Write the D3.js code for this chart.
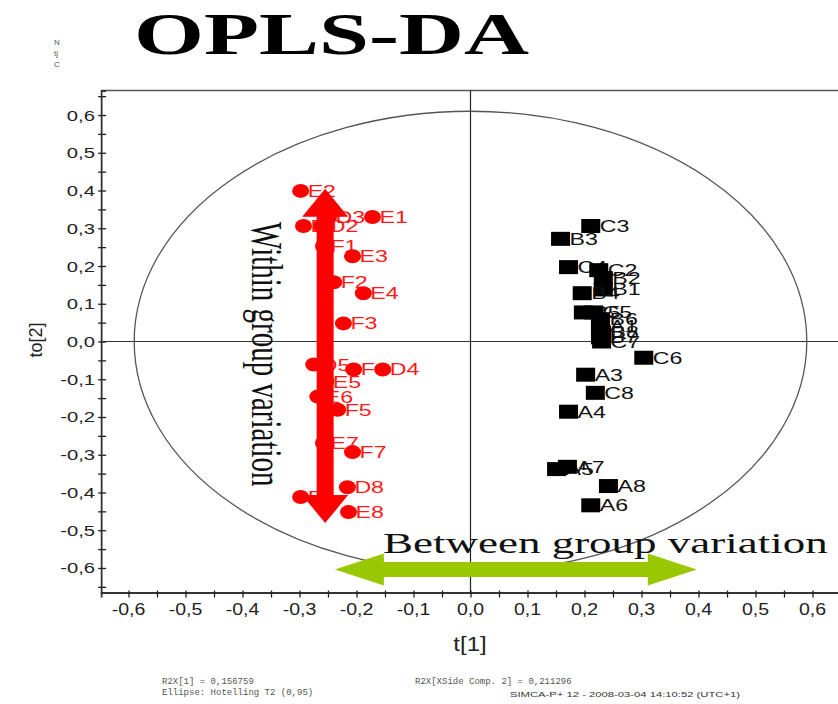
<!DOCTYPE html>
<html>
<head>
<meta charset="utf-8">
<script src="https://cdn.jsdelivr.net/npm/d3@7"></script>
<style>
  body { margin: 0; background: #fff; }
  text { font-family: "Liberation Sans", Arial, sans-serif; }
</style>
</head>
<body>
<svg id="chart" width="838" height="704"></svg>
<script>
// Class 1 scores (red circles)
const redLabels = ["D1","D2","D3","E2","E1","F1","E3","F2","E4","F3","D5","F4","D4","E5","E6","F5","E7","F7","D8","F8","E8"];
const redT1  = [-0.293,-0.261,-0.249,-0.298,-0.172,-0.258,-0.207,-0.240,-0.188,-0.223,-0.275,-0.205,-0.154,-0.254,-0.268,-0.233,-0.258,-0.207,-0.216,-0.298,-0.214];
const redTo2 = [ 0.306, 0.306, 0.330, 0.399, 0.330, 0.253, 0.226, 0.157, 0.128, 0.048,-0.061,-0.074,-0.074,-0.106,-0.146,-0.181,-0.269,-0.293,-0.386,-0.412,-0.452];

// Class 2 scores (black squares)
const blackLabels = ["C3","B3","C4","C2","B2","B1","B4","B5","C5","B6","A1","B8","B7","C7","C6","A3","C8","A4","A5","A7","A8","A6"];
const blackT1  = [0.211,0.158,0.172,0.225,0.233,0.233,0.196,0.198,0.216,0.228,0.228,0.230,0.228,0.230,0.304,0.202,0.219,0.172,0.151,0.170,0.242,0.211];
const blackTo2 = [0.306,0.272,0.197,0.189,0.168,0.138,0.128,0.077,0.077,0.059,0.040,0.024,0.011,0.000,-0.043,-0.088,-0.136,-0.186,-0.338,-0.332,-0.383,-0.434];

// Axes
const xTicks = [-0.6,-0.5,-0.4,-0.3,-0.2,-0.1,0,0.1,0.2,0.3,0.4,0.5,0.6];
const yTicks = [-0.6,-0.5,-0.4,-0.3,-0.2,-0.1,0,0.1,0.2,0.3,0.4,0.5,0.6];
const xExtent = [-0.648, 0.648];
const yExtent = [-0.665, 0.665];

// Hotelling T2 (0.95) ellipse radii [t1, to2]
const ellipseRadii = [0.59, 0.61];

// Annotation arrows (in score units)
const withinArrowT1 = -0.255;
const withinArrowTo2 = [0.405, -0.481];
const betweenArrowTo2 = -0.604;
const betweenArrowT1 = [-0.238, 0.397];

const footerLines = ["R2X[1] = 0,156759", "Ellipse: Hotelling T2 (0,95)", "R2X[XSide Comp. 2] = 0,211296"];
const stamp = "SIMCA-P+ 12 - 2008-03-04 14:10:52 (UTC+1)";

const svg = d3.select("#chart");
svg.append("rect").attr("width", 838).attr("height", 704).attr("fill", "#fff");

const x = d3.scaleLinear().domain(xExtent).range([101.14, 839.86]);
const y = d3.scaleLinear().domain(yExtent).range([592.5, 90.5]);

const loc = d3.formatLocale({decimal: ",", thousands: ".", grouping: [3], currency: ["", ""], minus: "-"});
const fmt = loc.format(".1f");

// Title
svg.append("text")
  .attr("transform", "translate(134,54) scale(1.5,1)")
  .style("font-family", "'Liberation Serif', 'Times New Roman', serif")
  .style("font-weight", "bold")
  .style("font-size", "60px")
  .attr("fill", "#000")
  .text("OPLS-DA");

// small stacked marks by the title
["N", "tj", "C"].forEach((s, i) => {
  svg.append("text").attr("x", 54).attr("y", 45 + i * 11)
    .style("font-size", "8px").attr("fill", "#555").text(s);
});

// Plot frame
const g = svg.append("g");
g.append("line").attr("x1", x(xExtent[0])).attr("x2", x(xExtent[1])).attr("y1", y(yExtent[1])).attr("y2", y(yExtent[1]))
  .attr("stroke", "#555").attr("stroke-width", 1.5);

// Zero lines
g.append("line").attr("x1", x(xExtent[0])).attr("x2", x(xExtent[1])).attr("y1", y(0)).attr("y2", y(0))
  .attr("stroke", "#333").attr("stroke-width", 1.2);
g.append("line").attr("x1", x(0)).attr("x2", x(0)).attr("y1", y(yExtent[0])).attr("y2", y(yExtent[1]))
  .attr("stroke", "#222").attr("stroke-width", 1.2);

// Axes
const minorX = d3.range(-12, 13).map(i => i * 0.05).filter(v => v >= xExtent[0] && v <= xExtent[1]);
const minorY = d3.range(-13, 14).map(i => i * 0.05).filter(v => v >= yExtent[0] && v <= yExtent[1]);

const xAxis = g.append("g").attr("transform", `translate(0,${y(yExtent[0])})`)
  .call(d3.axisBottom(x).tickValues(minorX).tickSize(5).tickFormat(""));
const yAxis = g.append("g").attr("transform", `translate(${x(xExtent[0])},0)`)
  .call(d3.axisLeft(y).tickValues(minorY).tickSize(-5).tickFormat(""));
[xAxis, yAxis].forEach(a => {
  a.select(".domain").attr("stroke", "#333").attr("stroke-width", 1.8);
  a.selectAll(".tick line").attr("stroke", "#222").attr("stroke-width", 1.3);
});
xAxis.selectAll(".tick line").attr("y1", -2);
yAxis.selectAll(".tick line").attr("x1", -3);

// Tick labels
g.selectAll(".xl").data(xTicks).join("text")
  .attr("transform", d => `translate(${x(d)},615) scale(1.22,1)`)
  .attr("text-anchor", "middle").style("font-size", "16px").attr("fill", "#222")
  .text(d => fmt(d));
g.selectAll(".yl").data(yTicks).join("text")
  .attr("transform", d => `translate(95,${y(d) + 5.5}) scale(1.35,1)`)
  .attr("text-anchor", "end").style("font-size", "15px").attr("fill", "#222")
  .text(d => fmt(d));

// Axis titles
svg.append("text").attr("transform", "translate(42,340) rotate(-90)")
  .attr("text-anchor", "middle").style("font-size", "18px").attr("fill", "#222").text("to[2]");
svg.append("text").attr("transform", "translate(470,651) scale(1.2,1)")
  .attr("text-anchor", "middle").style("font-size", "20px").attr("fill", "#222").text("t[1]");

// Hotelling ellipse
g.append("ellipse")
  .attr("cx", x(0)).attr("cy", y(0))
  .attr("rx", x(ellipseRadii[0]) - x(0)).attr("ry", y(0) - y(ellipseRadii[1]))
  .attr("fill", "none").attr("stroke", "#555").attr("stroke-width", 1.3);

// Red class points
const red = g.append("g");
redLabels.forEach((lab, i) => {
  const px = x(redT1[i]), py = y(redTo2[i]);
  red.append("ellipse").attr("cx", px).attr("cy", py).attr("rx", 8.5).attr("ry", 7).attr("fill", "#ff0000");
  red.append("text").attr("transform", `translate(${px + 7},${py + 6}) scale(1.45,1)`)
    .style("font-size", "16px").attr("fill", "#ff1a1a").text(lab);
});

// Black class points
const blk = g.append("g");
blackLabels.forEach((lab, i) => {
  const px = x(blackT1[i]), py = y(blackTo2[i]);
  blk.append("rect").attr("x", px - 9.5).attr("y", py - 7).attr("width", 19).attr("height", 14).attr("fill", "#000");
  blk.append("text").attr("transform", `translate(${px + 9},${py + 6}) scale(1.45,1)`)
    .style("font-size", "16px").attr("fill", "#111").text(lab);
});

// Within-group double arrow (red, vertical)
{
  const cx = x(withinArrowT1), y1 = y(withinArrowTo2[0]), y2 = y(withinArrowTo2[1]);
  const hb = 8.5, hh = 23, hl = 28;
  const pts = [[cx, y1], [cx + hh, y1 + hl], [cx + hb, y1 + hl], [cx + hb, y2 - hl], [cx + hh, y2 - hl], [cx, y2],
               [cx - hh, y2 - hl], [cx - hb, y2 - hl], [cx - hb, y1 + hl], [cx - hh, y1 + hl]];
  g.append("path").attr("d", d3.line()(pts) + "Z").attr("fill", "#ff0000");
}

// Between-group double arrow (green, horizontal)
{
  const cy = y(betweenArrowTo2), x1 = x(betweenArrowT1[0]), x2 = x(betweenArrowT1[1]);
  const hb = 7.5, hh = 16, hl = 49;
  const pts = [[x1, cy], [x1 + hl, cy - hh], [x1 + hl, cy - hb], [x2 - hl, cy - hb], [x2 - hl, cy - hh], [x2, cy],
               [x2 - hl, cy + hh], [x2 - hl, cy + hb], [x1 + hl, cy + hb], [x1 + hl, cy + hh]];
  g.append("path").attr("d", d3.line()(pts) + "Z").attr("fill", "#99c800");
}

// Annotation texts
svg.append("text")
  .attr("transform", "translate(252,222) rotate(90) scale(1,1.5)")
  .style("font-family", "'Liberation Serif', 'Times New Roman', serif")
  .style("font-size", "29px").attr("fill", "#111")
  .text("Within group variation");
svg.append("text")
  .attr("transform", "translate(383,553) scale(1.5,1)")
  .style("font-family", "'Liberation Serif', 'Times New Roman', serif")
  .style("font-size", "30px").attr("fill", "#111")
  .text("Between group variation");

// Footer
const mono = "'Liberation Mono', 'Courier New', monospace";
svg.append("text").attr("x", 162).attr("y", 684).style("font-family", mono).style("font-size", "9px").attr("fill", "#555").text(footerLines[0]);
svg.append("text").attr("x", 162).attr("y", 695).style("font-family", mono).style("font-size", "9px").attr("fill", "#555").text(footerLines[1]);
svg.append("text").attr("x", 415).attr("y", 684).style("font-family", mono).style("font-size", "9px").attr("fill", "#555").text(footerLines[2]);
svg.append("text").attr("x", 510).attr("y", 697).attr("textLength", 230).attr("lengthAdjust", "spacingAndGlyphs")
  .style("font-size", "7px").attr("fill", "#333").text(stamp);
</script>
</body>
</html>
